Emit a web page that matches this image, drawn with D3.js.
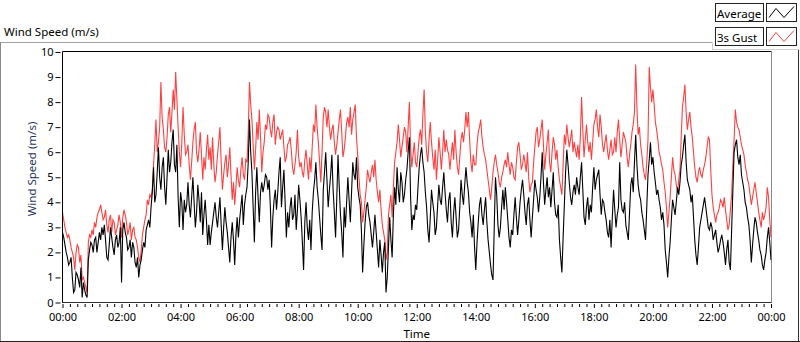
<!DOCTYPE html>
<html>
<head>
<meta charset="utf-8">
<script src="https://cdn.jsdelivr.net/npm/d3@7"></script>
<style>
  html, body { margin: 0; padding: 0; background: #ffffff; }
  svg { display: block; }
  text { font-family: "Noto Sans", "Liberation Sans", sans-serif; }
</style>
</head>
<body>
<svg id="chart" width="800" height="342"></svg>
<script>
// ---- data (2.5-minute samples, 00:00 .. 24:00), one hour = two rows ----
const stepMinutes = 2.5;
const seriesNames = ["Average", "3s Gust"];
const averageSpeed = [
  2.8, 2.6, 2.3, 2.0, 1.8, 1.5, 1.6, 1.8, 1.0, 0.4, 0.5, 1.2,
  1.1, 0.9, 0.6, 1.4, 0.2, 0.8, 0.5, 0.3, 0.2, 1.7, 2.1, 2.4,
  2.3, 2.0, 2.5, 2.6, 2.0, 2.4, 2.8, 2.5, 3.0, 2.7, 3.1, 2.5,
  1.8, 1.7, 2.3, 3.0, 2.6, 2.2, 1.9, 2.5, 2.7, 2.2, 2.4, 3.0,
  0.8, 2.9, 3.2, 2.8, 2.6, 2.1, 2.2, 2.5, 1.8, 2.4, 2.2, 1.6,
  1.4, 1.8, 1.0, 1.5, 1.7, 2.1, 2.4, 2.2, 2.9, 3.1, 3.3, 3.0,
  3.8, 4.4, 5.4, 4.0, 4.3, 5.2, 6.2, 5.0, 4.5, 5.4, 5.8, 4.6,
  3.9, 5.0, 6.1, 5.2, 5.6, 6.4, 6.9, 5.5, 5.2, 6.3, 4.2, 3.0,
  4.4, 4.0, 2.9, 4.1, 3.6, 3.9, 4.8, 3.9, 3.4, 4.2, 5.0, 4.0,
  3.0, 3.6, 4.7, 4.1, 3.2, 4.4, 2.7, 3.5, 4.1, 3.3, 2.3, 3.1,
  2.3, 2.8, 3.2, 3.6, 4.0, 3.4, 3.0, 3.6, 4.2, 3.1, 2.1, 3.0,
  3.8, 3.2, 2.8, 2.2, 1.6, 2.6, 3.2, 2.5, 1.5, 2.7, 3.4, 2.6,
  3.3, 3.8, 4.3, 3.1, 3.9, 4.3, 4.6, 5.6, 7.3, 6.0, 5.2, 3.8,
  2.4, 4.4, 5.4, 4.2, 3.2, 4.4, 4.8, 4.4, 4.7, 5.1, 5.0, 4.5,
  4.9, 3.8, 2.2, 3.4, 4.1, 4.5, 3.7, 4.4, 5.2, 5.8, 3.8, 4.6,
  5.3, 4.0, 2.6, 3.6, 3.0, 3.8, 4.2, 3.3, 3.5, 4.3, 2.9, 3.7,
  4.7, 4.1, 3.4, 2.4, 1.3, 3.2, 4.0, 3.0, 2.5, 3.3, 2.1, 3.6,
  4.4, 4.9, 5.6, 4.6, 4.1, 3.4, 2.7, 2.1, 4.5, 5.2, 6.0, 4.9,
  3.8, 4.5, 5.1, 5.9, 4.5, 3.6, 2.6, 4.2, 5.9, 4.6, 3.5, 2.8,
  1.8, 3.8, 3.0, 4.0, 5.0, 4.1, 3.2, 4.4, 5.6, 5.1, 4.9, 5.8,
  4.6, 4.2, 3.9, 2.9, 1.2, 2.3, 3.2, 3.8, 4.0, 3.5, 3.2, 2.7,
  2.2, 2.8, 3.5, 2.8, 2.1, 1.4, 2.5, 1.9, 1.2, 2.0, 2.4, 0.4,
  1.0, 2.2, 3.4, 2.5, 1.8, 3.5, 4.6, 3.9, 5.4, 4.5, 4.0, 5.2,
  4.8, 4.0, 4.3, 4.9, 5.3, 6.0, 6.6, 4.2, 2.9, 3.5, 3.3, 3.9,
  3.7, 4.6, 5.4, 5.9, 6.2, 5.6, 5.2, 4.4, 3.8, 2.9, 2.4, 3.4,
  4.5, 4.0, 3.6, 2.7, 3.0, 3.9, 4.7, 4.1, 3.9, 4.6, 5.2, 4.4,
  3.7, 3.2, 4.1, 4.4, 3.2, 2.6, 3.6, 4.2, 3.4, 2.6, 2.9, 3.8,
  4.9, 4.3, 3.9, 4.7, 5.4, 4.8, 4.4, 3.6, 3.2, 2.6, 3.5, 2.2,
  1.3, 2.4, 3.2, 3.9, 4.2, 3.5, 3.1, 3.7, 4.2, 3.2, 2.5, 2.0,
  1.5, 1.1, 0.9, 3.0, 5.0, 4.3, 3.1, 2.6, 3.0, 3.8, 4.5, 3.7,
  4.6, 4.0, 3.3, 2.6, 2.2, 2.9, 2.7, 3.5, 4.2, 3.4, 2.7, 3.3,
  4.0, 4.5, 4.9, 4.3, 3.6, 3.1, 3.9, 4.2, 3.3, 2.6, 3.4, 4.1,
  4.9, 4.5, 4.2, 3.6, 4.2, 5.0, 6.0, 4.8, 3.9, 4.5, 5.0, 4.2,
  4.6, 3.8, 4.5, 5.2, 4.0, 3.5, 3.4, 3.9, 2.5, 1.8, 1.2, 2.6,
  3.9, 5.2, 6.1, 5.5, 4.8, 4.2, 3.9, 4.4, 4.7, 4.3, 5.0, 4.6,
  4.3, 5.0, 5.6, 4.5, 3.4, 3.1, 3.8, 4.2, 3.3, 3.9, 3.6, 4.6,
  5.4, 4.5, 4.9, 5.1, 5.3, 4.3, 3.5, 4.1, 4.0, 3.6, 3.3, 2.8,
  2.6, 3.3, 2.2, 3.4, 4.5, 3.7, 3.0, 3.5, 3.8, 5.6, 4.1, 3.7,
  3.6, 4.0, 3.1, 2.8, 2.5, 3.6, 4.7, 5.0, 4.4, 5.6, 6.7, 5.5,
  4.7, 4.3, 4.1, 3.6, 3.3, 2.9, 2.5, 3.8, 5.1, 5.7, 6.4, 5.5,
  5.8, 5.2, 4.8, 4.3, 4.5, 4.1, 3.8, 3.3, 3.6, 3.1, 2.1, 1.6,
  1.0, 1.8, 2.4, 3.3, 4.1, 3.8, 3.5, 4.0, 4.6, 4.3, 4.8, 5.5,
  5.8, 6.3, 6.7, 5.6, 4.9, 4.7, 4.5, 4.0, 4.3, 3.4, 2.5, 1.9,
  1.5, 2.2, 3.0, 3.3, 3.6, 3.9, 4.2, 3.8, 3.4, 3.0, 2.9, 3.2,
  3.0, 2.5, 2.7, 2.9, 2.4, 2.0, 2.2, 2.5, 2.7, 2.4, 2.0, 1.5,
  2.1, 2.5, 1.6, 1.3, 2.9, 4.5, 6.0, 6.3, 6.5, 5.8, 5.5, 5.9,
  5.1, 4.8, 4.5, 4.0, 3.8, 3.4, 3.1, 2.5, 1.6, 2.3, 2.9, 3.4,
  3.2, 2.8, 2.5, 2.1, 1.9, 1.5, 1.3, 1.7, 2.0, 2.6, 3.0, 2.4,
  1.7
];
const gustSpeed = [
  3.6, 3.3, 3.0, 2.8, 2.6, 2.7, 2.5, 2.2, 2.0, 1.8, 1.3, 2.0,
  2.3, 2.2, 1.6, 1.9, 0.9, 1.0, 0.8, 0.6, 0.4, 2.4, 2.7, 2.6,
  2.9, 2.7, 3.2, 3.0, 3.4, 3.6, 3.7, 3.9, 3.6, 3.3, 3.4, 3.7,
  3.1, 2.8, 3.3, 3.5, 2.8, 3.3, 3.2, 2.7, 2.9, 3.1, 3.5, 3.2,
  2.6, 3.4, 3.7, 3.5, 3.2, 2.7, 2.9, 3.2, 2.5, 2.9, 3.0, 2.6,
  2.5, 2.2, 1.8, 1.6, 2.1, 2.7, 3.0, 3.3, 3.5, 4.1, 3.9, 4.3,
  4.2, 4.5, 5.5, 6.3, 7.3, 6.0, 6.4, 7.0, 8.8, 7.4, 6.9, 6.2,
  6.0, 6.6, 7.5, 7.8, 6.8, 7.6, 8.5, 7.7, 9.2, 8.1, 7.0, 6.0,
  5.4, 6.4, 7.8, 6.7, 5.9, 6.0, 6.3, 5.5, 4.9, 5.6, 6.4, 6.9,
  7.2, 6.0, 5.6, 6.1, 6.8, 5.9, 4.9, 5.8, 5.3, 6.1, 6.7, 5.7,
  6.2, 5.3, 6.6, 5.5, 4.8, 5.2, 5.9, 6.4, 7.0, 5.6, 4.5, 5.1,
  5.6, 5.9, 5.0, 5.5, 6.2, 5.1, 4.1, 4.8, 3.9, 4.6, 5.4, 4.9,
  4.6, 5.3, 5.8, 5.1, 4.9, 5.7, 5.6, 6.8, 8.8, 7.9, 7.3, 6.3,
  5.3, 6.1, 7.2, 6.5, 7.7, 6.6, 5.2, 6.0, 6.4, 7.1, 6.9, 7.5,
  7.4, 6.9, 6.6, 7.2, 7.5, 6.3, 6.8, 7.0, 6.9, 6.5, 6.7, 6.9,
  6.2, 5.6, 5.8, 6.3, 6.4, 6.6, 6.1, 5.4, 5.1, 5.5, 6.0, 6.9,
  5.8, 5.4, 5.6, 5.2, 5.0, 5.7, 6.1, 5.5, 4.9, 5.8, 5.2, 6.2,
  7.1, 6.8, 7.9, 7.0, 6.4, 5.6, 4.8, 6.0, 7.4, 7.8, 7.6, 7.0,
  7.7, 7.0, 6.5, 6.9, 7.1, 6.4, 5.9, 6.3, 6.8, 7.3, 7.7, 6.8,
  5.8, 6.1, 6.6, 7.2, 7.4, 7.0, 7.8, 6.7, 7.3, 7.6, 7.9, 6.6,
  5.9, 5.0, 4.3, 4.0, 3.2, 3.6, 4.1, 4.6, 5.3, 5.0, 4.8, 5.2,
  5.5, 5.0, 5.7, 4.9, 4.4, 4.0, 4.5, 3.7, 3.1, 2.8, 2.5, 1.7,
  2.0, 3.5, 3.9, 4.3, 3.4, 4.6, 5.6, 6.0, 6.4, 7.1, 6.5, 5.8,
  6.2, 6.6, 7.0, 6.8, 6.0, 7.0, 8.0, 6.2, 5.4, 5.9, 6.4, 5.6,
  5.4, 6.0, 6.6, 6.9, 6.3, 7.5, 8.5, 6.8, 6.0, 5.6, 6.5, 7.2,
  6.4, 5.8, 5.3, 6.1, 4.9, 5.7, 6.6, 6.0, 5.3, 6.0, 6.9, 6.0,
  6.5, 6.1, 5.9, 5.3, 5.9, 6.4, 5.7, 6.9, 6.0, 5.4, 5.1, 5.8,
  6.5, 6.8, 6.4, 6.9, 7.6, 7.0, 7.6, 6.5, 5.6, 5.2, 5.9, 5.5,
  5.5, 6.3, 6.8, 7.0, 7.3, 6.6, 6.2, 5.9, 5.7, 5.3, 4.9, 4.5,
  4.1, 4.6, 5.2, 5.6, 5.9, 5.5, 5.2, 4.8, 4.6, 5.0, 5.2, 5.5,
  5.7, 5.4, 6.0, 5.5, 5.1, 5.6, 5.4, 5.0, 4.9, 5.6, 6.2, 6.4,
  5.9, 5.3, 5.5, 5.9, 5.6, 5.2, 6.0, 5.0, 4.4, 4.7, 4.8, 5.6,
  6.2, 6.8, 7.0, 6.2, 6.5, 6.9, 7.3, 6.3, 5.3, 5.9, 6.4, 6.9,
  5.6, 5.2, 6.0, 6.6, 6.3, 5.7, 6.1, 5.4, 4.9, 4.6, 4.3, 5.5,
  6.7, 6.3, 7.1, 6.6, 6.2, 6.5, 6.9, 6.0, 6.4, 6.1, 5.8, 6.3,
  5.7, 6.6, 8.2, 6.9, 5.8, 6.5, 7.1, 6.4, 6.0, 6.4, 5.7, 6.4,
  7.1, 7.3, 7.7, 7.0, 6.6, 7.5, 7.0, 6.3, 6.0, 6.4, 6.7, 6.1,
  5.7, 6.1, 6.5, 5.9, 6.0, 6.6, 6.0, 6.8, 7.3, 6.5, 5.8, 6.3,
  6.8, 6.6, 6.4, 5.8, 5.4, 5.9, 6.3, 6.8, 7.1, 7.6, 9.5, 7.8,
  6.7, 7.0, 6.3, 5.9, 5.4, 5.1, 4.9, 5.6, 6.5, 9.4, 8.6, 8.0,
  8.5, 7.9, 7.2, 6.9, 6.5, 6.0, 5.8, 5.5, 5.3, 4.8, 4.4, 3.8,
  3.0, 3.6, 4.2, 5.0, 5.8, 5.3, 5.1, 4.7, 4.4, 4.9, 5.3, 6.6,
  7.8, 8.2, 8.7, 7.6, 6.9, 7.3, 7.6, 7.0, 6.6, 6.0, 5.4, 5.0,
  4.8, 5.2, 5.4, 5.1, 5.0, 5.3, 5.5, 5.8, 6.2, 6.6, 6.5, 5.3,
  4.3, 3.8, 3.5, 3.2, 3.5, 3.6, 3.8, 4.1, 4.0, 3.8, 4.2, 3.7,
  3.3, 2.9, 3.1, 3.7, 4.3, 5.5, 6.5, 7.7, 7.2, 7.0, 6.9, 6.6,
  6.3, 6.1, 5.9, 5.5, 5.2, 4.9, 4.7, 4.3, 3.9, 4.2, 4.5, 4.8,
  4.4, 4.0, 3.6, 3.3, 3.0, 3.6, 3.3, 3.5, 3.8, 4.6, 4.2, 3.3,
  2.6
];
const xTickLabels = ["00:00","02:00","04:00","06:00","08:00","10:00","12:00",
                     "14:00","16:00","18:00","20:00","22:00","00:00"];
const yTickValues = [0,1,2,3,4,5,6,7,8,9,10];

// ---- layout ----
const svg = d3.select("#chart");
const plot = { left: 62.5, right: 771, top: 52, bottom: 302.5 };
const x = d3.scaleLinear().domain([0, 24 * 60]).range([plot.left, plot.right]);
const y = d3.scaleLinear().domain([0, 10]).range([plot.bottom, plot.top]);

// outer panel frame
svg.append("line").attr("x1", 0).attr("x2", 712).attr("y1", 42.5).attr("y2", 42.5).attr("stroke", "#a0a0a0");
svg.append("line").attr("x1", 0.5).attr("x2", 0.5).attr("y1", 42).attr("y2", 342).attr("stroke", "#8a8a8a");
svg.append("line").attr("x1", 0).attr("x2", 800).attr("y1", 341.5).attr("y2", 341.5).attr("stroke", "#202020");
svg.append("line").attr("x1", 798.5).attr("x2", 798.5).attr("y1", 49).attr("y2", 342).attr("stroke", "#303030");

// legend panel
svg.append("line").attr("x1", 712).attr("x2", 799).attr("y1", 49.5).attr("y2", 49.5).attr("stroke", "#d0d0d0");
svg.append("line").attr("x1", 712.5).attr("x2", 712.5).attr("y1", 42).attr("y2", 50).attr("stroke", "#d0d0d0");

// title
svg.append("text").attr("x", 4).attr("y", 36).attr("font-size", "11.5px").attr("fill", "#000").text("Wind Speed (m/s)");

// plot frame
svg.append("line").attr("x1", plot.left).attr("x2", plot.right + 0.5).attr("y1", 51.5).attr("y2", 51.5).attr("stroke", "#000");
svg.append("line").attr("x1", plot.right + 0.5).attr("x2", plot.right + 0.5).attr("y1", 51.5).attr("y2", 303).attr("stroke", "#8c8c8c");
svg.append("line").attr("x1", plot.left).attr("x2", plot.left).attr("y1", 51.5).attr("y2", 303).attr("stroke", "#000");
svg.append("line").attr("x1", plot.left).attr("x2", plot.right + 0.5).attr("y1", plot.bottom).attr("y2", plot.bottom).attr("stroke", "#333");

// axes
const yAxis = d3.axisLeft(y).tickValues(yTickValues).tickFormat(d3.format("d")).tickSize(5).tickPadding(2);
const yg = svg.append("g").attr("transform", "translate(60.5,0)").call(yAxis);
yg.select(".domain").remove();
yg.selectAll("text").attr("font-size", "11px").attr("fill", "#000").style("font-family", "'Noto Sans', sans-serif");
yg.selectAll(".tick line").attr("stroke", "#000");

const majorMinutes = xTickLabels.map((_, i) => i * 120);
const minorMinutes = d3.range(0, 24 * 60 + 1, 15).filter(m => m % 120 !== 0);
const xMinor = d3.axisBottom(x).tickValues(minorMinutes).tickFormat("").tickSize(3);
const xgm = svg.append("g").attr("transform", "translate(0,304)").call(xMinor);
xgm.select(".domain").remove();
xgm.selectAll(".tick line").attr("stroke", "#000");

const xAxis = d3.axisBottom(x).tickValues(majorMinutes).tickFormat((d, i) => xTickLabels[i]).tickSize(4).tickPadding(5);
const xg = svg.append("g").attr("transform", "translate(0,304)").call(xAxis);
xg.select(".domain").remove();
xg.selectAll(".tick line").attr("stroke", "#000");
xg.selectAll("text").attr("font-size", "11px").attr("fill", "#000").style("font-family", "'Noto Sans', sans-serif");

// axis titles
svg.append("text").attr("x", (plot.left + plot.right) / 2).attr("y", 338)
  .attr("text-anchor", "middle").attr("font-size", "11.5px").attr("fill", "#000").text("Time");
svg.append("text").attr("transform", "translate(36,169) rotate(-90)")
  .attr("text-anchor", "middle").attr("font-size", "11.5px").attr("fill", "#1f3560").text("Wind Speed (m/s)");

// series
const line = d3.line().x((d, i) => x(i * stepMinutes)).y(d => y(d));
svg.append("clipPath").attr("id", "pc").append("rect")
  .attr("x", plot.left + 0.5).attr("y", 52).attr("width", plot.right - plot.left).attr("height", plot.bottom - 52);
const series = svg.append("g").attr("clip-path", "url(#pc)");
series.append("path").datum(gustSpeed).attr("d", line).attr("fill", "none")
  .attr("stroke", "#ff4040").attr("stroke-width", 1.1);
series.append("path").datum(averageSpeed).attr("d", line).attr("fill", "none")
  .attr("stroke", "#000").attr("stroke-width", 1.1);

// legend
const legendColors = ["#000", "#ff4040"];
const legend = svg.append("g");
seriesNames.forEach((name, i) => {
  const top = 3.5 + i * 24;
  legend.append("rect").attr("x", 715.5).attr("y", top).attr("width", 48).attr("height", 18)
    .attr("fill", "#fff").attr("stroke", "#222");
  legend.append("text").attr("x", 717).attr("y", top + 14).attr("font-size", "11.5px").attr("fill", "#000").text(name);
  legend.append("rect").attr("x", 766.5).attr("y", top).attr("width", 30).attr("height", 18)
    .attr("fill", "#fff").attr("stroke", "#222");
  const sw = [[769, top + 14], [776, top + 5], [784, top + 14], [794, top + 3]];
  legend.append("path").attr("d", d3.line()(sw)).attr("fill", "none").attr("stroke", legendColors[i]).attr("stroke-width", 1);
});
</script>
</body>
</html>
